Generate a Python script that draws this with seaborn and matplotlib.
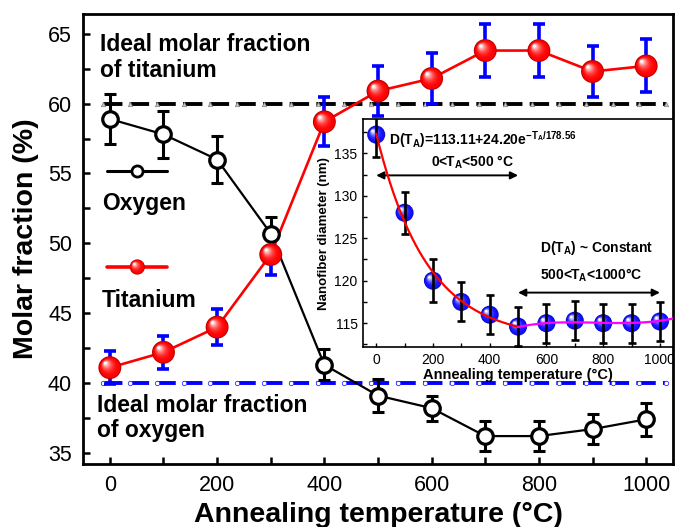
import numpy as np
import matplotlib
matplotlib.use("Agg")
import matplotlib.pyplot as plt
import matplotlib.colors as mcolors
import matplotlib.transforms as mtransforms
from matplotlib.ticker import MultipleLocator
import seaborn as sns

# ---- composition data (EDS) ----
temps = [0, 100, 200, 300, 400, 500, 600, 700, 800, 900, 1000]
oxygen = [58.9, 57.8, 56.0, 50.7, 41.3, 39.1, 38.2, 36.2, 36.2, 36.7, 37.4]
oxygen_err = [1.8, 1.7, 1.65, 1.2, 1.1, 1.2, 0.9, 1.1, 1.1, 1.1, 1.2]
titanium = [41.1, 42.2, 44.0, 49.2, 58.7, 60.9, 61.8, 63.8, 63.8, 62.3, 62.7]
titanium_err = [1.2, 1.2, 1.3, 1.5, 1.75, 1.8, 1.85, 1.9, 1.9, 1.85, 1.9]

# ideal stoichiometric fractions and the points of the reference lines
ideal_ti = 60.0
ideal_o = 40.0
ref_x = [-12.5, 37.5, 87.5, 137.5, 187.5, 237.5, 287.5, 337.5, 387.5, 437.5, 487.5,
         537.5, 587.5, 637.5, 687.5, 737.5, 787.5, 837.5, 887.5, 937.5, 987.5, 1037.5]

# ---- nanofiber diameter (inset) ----
diameter = [137.2, 128.0, 120.0, 117.5, 116.0, 114.6, 115.0, 115.3, 115.0, 115.0, 115.2]
diameter_err = [2.6, 2.5, 2.5, 2.3, 2.3, 2.3, 2.3, 2.3, 2.3, 2.3, 2.3]
fit_a, fit_b, fit_tau = 113.11, 24.20, 178.56
plateau_x = [500, 600, 700, 800, 900, 1000, 1050]
plateau_y = [114.55, 115.0, 115.1, 115.05, 115.05, 115.25, 115.6]

sns.set_style("ticks")
plt.rcParams["font.family"] = ["Liberation Sans", "DejaVu Sans"]
plt.rcParams["mathtext.fontset"] = "custom"
plt.rcParams["mathtext.rm"] = "Liberation Sans"
plt.rcParams["mathtext.bf"] = "Liberation Sans:bold"
plt.rcParams["mathtext.it"] = "Liberation Sans:italic"
plt.rcParams["lines.scale_dashes"] = False
for key in ["text.color", "axes.labelcolor", "xtick.color", "ytick.color", "axes.edgecolor"]:
    plt.rcParams[key] = "black"

fig = plt.figure(figsize=(6.75, 5.27), dpi=100)
ax = fig.add_axes([0.123, 0.1195, 0.874, 0.8535])


def draw_spheres(axis, xs, ys, color, diam, zorder):
    """Shaded balls: stacked disks getting smaller and lighter toward a highlight."""
    base = np.array(mcolors.to_rgb(color))
    dark = base * 0.75
    n = 12
    sns.scatterplot(x=xs, y=ys, ax=axis, s=diam ** 2, color=dark, edgecolor="none",
                    linewidth=0, zorder=zorder, legend=False)
    for i in range(n):
        f = i / (n - 1)
        d = diam * (0.9 - 0.78 * f)
        w = f ** 2.2
        col = base * (1 - w) + np.ones(3) * w
        tr = mtransforms.offset_copy(axis.transData, fig=axis.figure,
                                     x=-0.2 * diam * f, y=0.2 * diam * f, units="points")
        sns.scatterplot(x=xs, y=ys, ax=axis, s=d ** 2, color=col, edgecolor="none",
                        linewidth=0, transform=tr, zorder=zorder + 0.01 * (i + 1),
                        legend=False)


# reference lines for ideal stoichiometry
sns.lineplot(x=ref_x, y=[ideal_ti] * len(ref_x), ax=ax, color="black", lw=2.8,
             linestyle=(0, (14, 5.2)), marker="^", markersize=3.2,
             markerfacecolor="#c8c8c8", markeredgecolor="#808080", markeredgewidth=0.5,
             zorder=1)
sns.lineplot(x=ref_x, y=[ideal_o] * len(ref_x), ax=ax, color="#0000ff", lw=2.8,
             linestyle=(0, (14, 5.2)), marker="o", markersize=3.2,
             markerfacecolor="white", markeredgecolor="#3030ff", markeredgewidth=0.6,
             zorder=1)

# oxygen series
sns.lineplot(x=temps, y=oxygen, ax=ax, color="black", lw=1.6, zorder=2)
ax.errorbar(temps, oxygen, yerr=oxygen_err, fmt="none", ecolor="black",
            elinewidth=2.2, capsize=4.2, capthick=2.2, zorder=3)
sns.scatterplot(x=temps, y=oxygen, ax=ax, s=125, marker="o", color="white",
                edgecolor="black", linewidth=2.3, zorder=4, legend=False)

# titanium series
sns.lineplot(x=temps, y=titanium, ax=ax, color="#ff0000", lw=1.9, zorder=2)
ax.errorbar(temps, titanium, yerr=titanium_err, fmt="none", ecolor="#0000ff",
            elinewidth=2.6, capsize=4.6, capthick=2.6, zorder=3)
draw_spheres(ax, temps, titanium, "#ff0000", 16.5, 5)

ax.set_xlim(-50, 1050)
ax.set_ylim(34.2, 66.4)
ax.xaxis.set_major_locator(MultipleLocator(200))
ax.xaxis.set_minor_locator(MultipleLocator(100))
ax.yaxis.set_major_locator(MultipleLocator(5))
ax.yaxis.set_minor_locator(MultipleLocator(2.5))
ax.tick_params(which="both", direction="in", length=5, width=1.8, top=False, right=False,
               colors="black")
ax.tick_params(which="major", labelsize=15.5, pad=8)
for sp in ax.spines.values():
    sp.set_linewidth(2.0)
    sp.set_color("black")
ax.set_xlabel("Annealing temperature (°C)", fontsize=20.5, fontweight="bold", labelpad=4)
ax.set_ylabel("Molar fraction (%)", fontsize=20.5, fontweight="bold", labelpad=6)

# in-plot labels and series keys
ax.text(0.029, 0.904, "Ideal molar fraction\nof titanium", transform=ax.transAxes,
        fontsize=16.5, fontweight="bold", ha="left", va="center", linespacing=1.15)
ax.text(0.024, 0.102, "Ideal molar fraction\nof oxygen", transform=ax.transAxes,
        fontsize=16.5, fontweight="bold", ha="left", va="center", linespacing=1.15)
ax.text(0.032, 0.58, "Oxygen", transform=ax.transAxes, fontsize=16.5,
        fontweight="bold", ha="left", va="center")
ax.text(0.032, 0.364, "Titanium", transform=ax.transAxes, fontsize=16.5,
        fontweight="bold", ha="left", va="center")

ax.plot([0.041, 0.142], [0.651, 0.651], transform=ax.transAxes, color="black", lw=2.2,
        clip_on=False, zorder=4)
ax.plot([0.092], [0.651], transform=ax.transAxes, marker="o", ms=8, mfc="white",
        mec="black", mew=2.0, clip_on=False, zorder=5)
ax.plot([0.041, 0.142], [0.438, 0.438], transform=ax.transAxes, color="#ff0000", lw=2.6,
        clip_on=False, zorder=4)
key_x = ax.transAxes.transform([(0.092, 0.438)])
key_pt = ax.transData.inverted().transform(key_x)
draw_spheres(ax, [key_pt[0][0]], [key_pt[0][1]], "#ff0000", 11, 6)

# ---- inset: nanofiber diameter ----
ins = fig.add_axes([0.538, 0.3416, 0.459, 0.432])
ins.set_facecolor("white")
draw_spheres(ins, temps, diameter, "#1010ff", 13, 3)
ins.errorbar(temps, diameter, yerr=diameter_err, fmt="none", ecolor="black",
             elinewidth=1.9, capsize=3.2, capthick=1.9, zorder=4)

fit_t = np.linspace(0, 500, 200)
fit_d = fit_a + fit_b * np.exp(-fit_t / fit_tau)
sns.lineplot(x=fit_t, y=fit_d, ax=ins, color="#ff0000", lw=1.6, zorder=5)
coef = np.polyfit(plateau_x, plateau_y, 3)
pl_t = np.linspace(500, 1050, 120)
sns.lineplot(x=pl_t, y=np.polyval(coef, pl_t), ax=ins, color="#ff00ff", lw=1.6, zorder=5)

ins.annotate("", xy=(500, 132.4), xytext=(0, 132.4),
             arrowprops=dict(arrowstyle="<|-|>", color="black", lw=1.4,
                             mutation_scale=11, shrinkA=0, shrinkB=0))
ins.annotate("", xy=(1000, 118.6), xytext=(500, 118.6),
             arrowprops=dict(arrowstyle="<|-|>", color="black", lw=1.4,
                             mutation_scale=11, shrinkA=0, shrinkB=0))

ins.text(46, 136.6,
         r"D(T$_{\mathbf{A}}$)=113.11+24.20e$^{\mathbf{-T_A/178.56}}$",
         fontsize=10, fontweight="bold", ha="left", va="center", zorder=6)
ins.text(338, 133.9, r"0<T$_{\mathbf{A}}$<500 °C", fontsize=10, fontweight="bold",
         ha="center", va="center", zorder=6)
ins.text(775, 123.9, r"D(T$_{\mathbf{A}}$) ~ Constant", fontsize=10, fontweight="bold",
         ha="center", va="center", zorder=6)
ins.text(757, 120.6, r"500<T$_{\mathbf{A}}$<1000°C", fontsize=10, fontweight="bold",
         ha="center", va="center", zorder=6)

ins.set_xlim(-46, 1046)
ins.set_ylim(112.2, 139)
ins.xaxis.set_major_locator(MultipleLocator(200))
ins.xaxis.set_minor_locator(MultipleLocator(100))
ins.yaxis.set_major_locator(MultipleLocator(5))
ins.yaxis.set_minor_locator(MultipleLocator(2.5))
ins.tick_params(which="both", direction="in", length=3, width=1.0, top=False, right=False,
                colors="black")
ins.tick_params(which="major", labelsize=10, pad=4)
for sp in ins.spines.values():
    sp.set_linewidth(1.2)
    sp.set_color("black")
ins.set_xlabel("Annealing temperature (°C)", fontsize=10.5, fontweight="bold", labelpad=1)
ins.set_ylabel("Nanofiber diameter (nm)", fontsize=9.5, fontweight="bold", labelpad=3)

fig.savefig("out.png", dpi=100)
